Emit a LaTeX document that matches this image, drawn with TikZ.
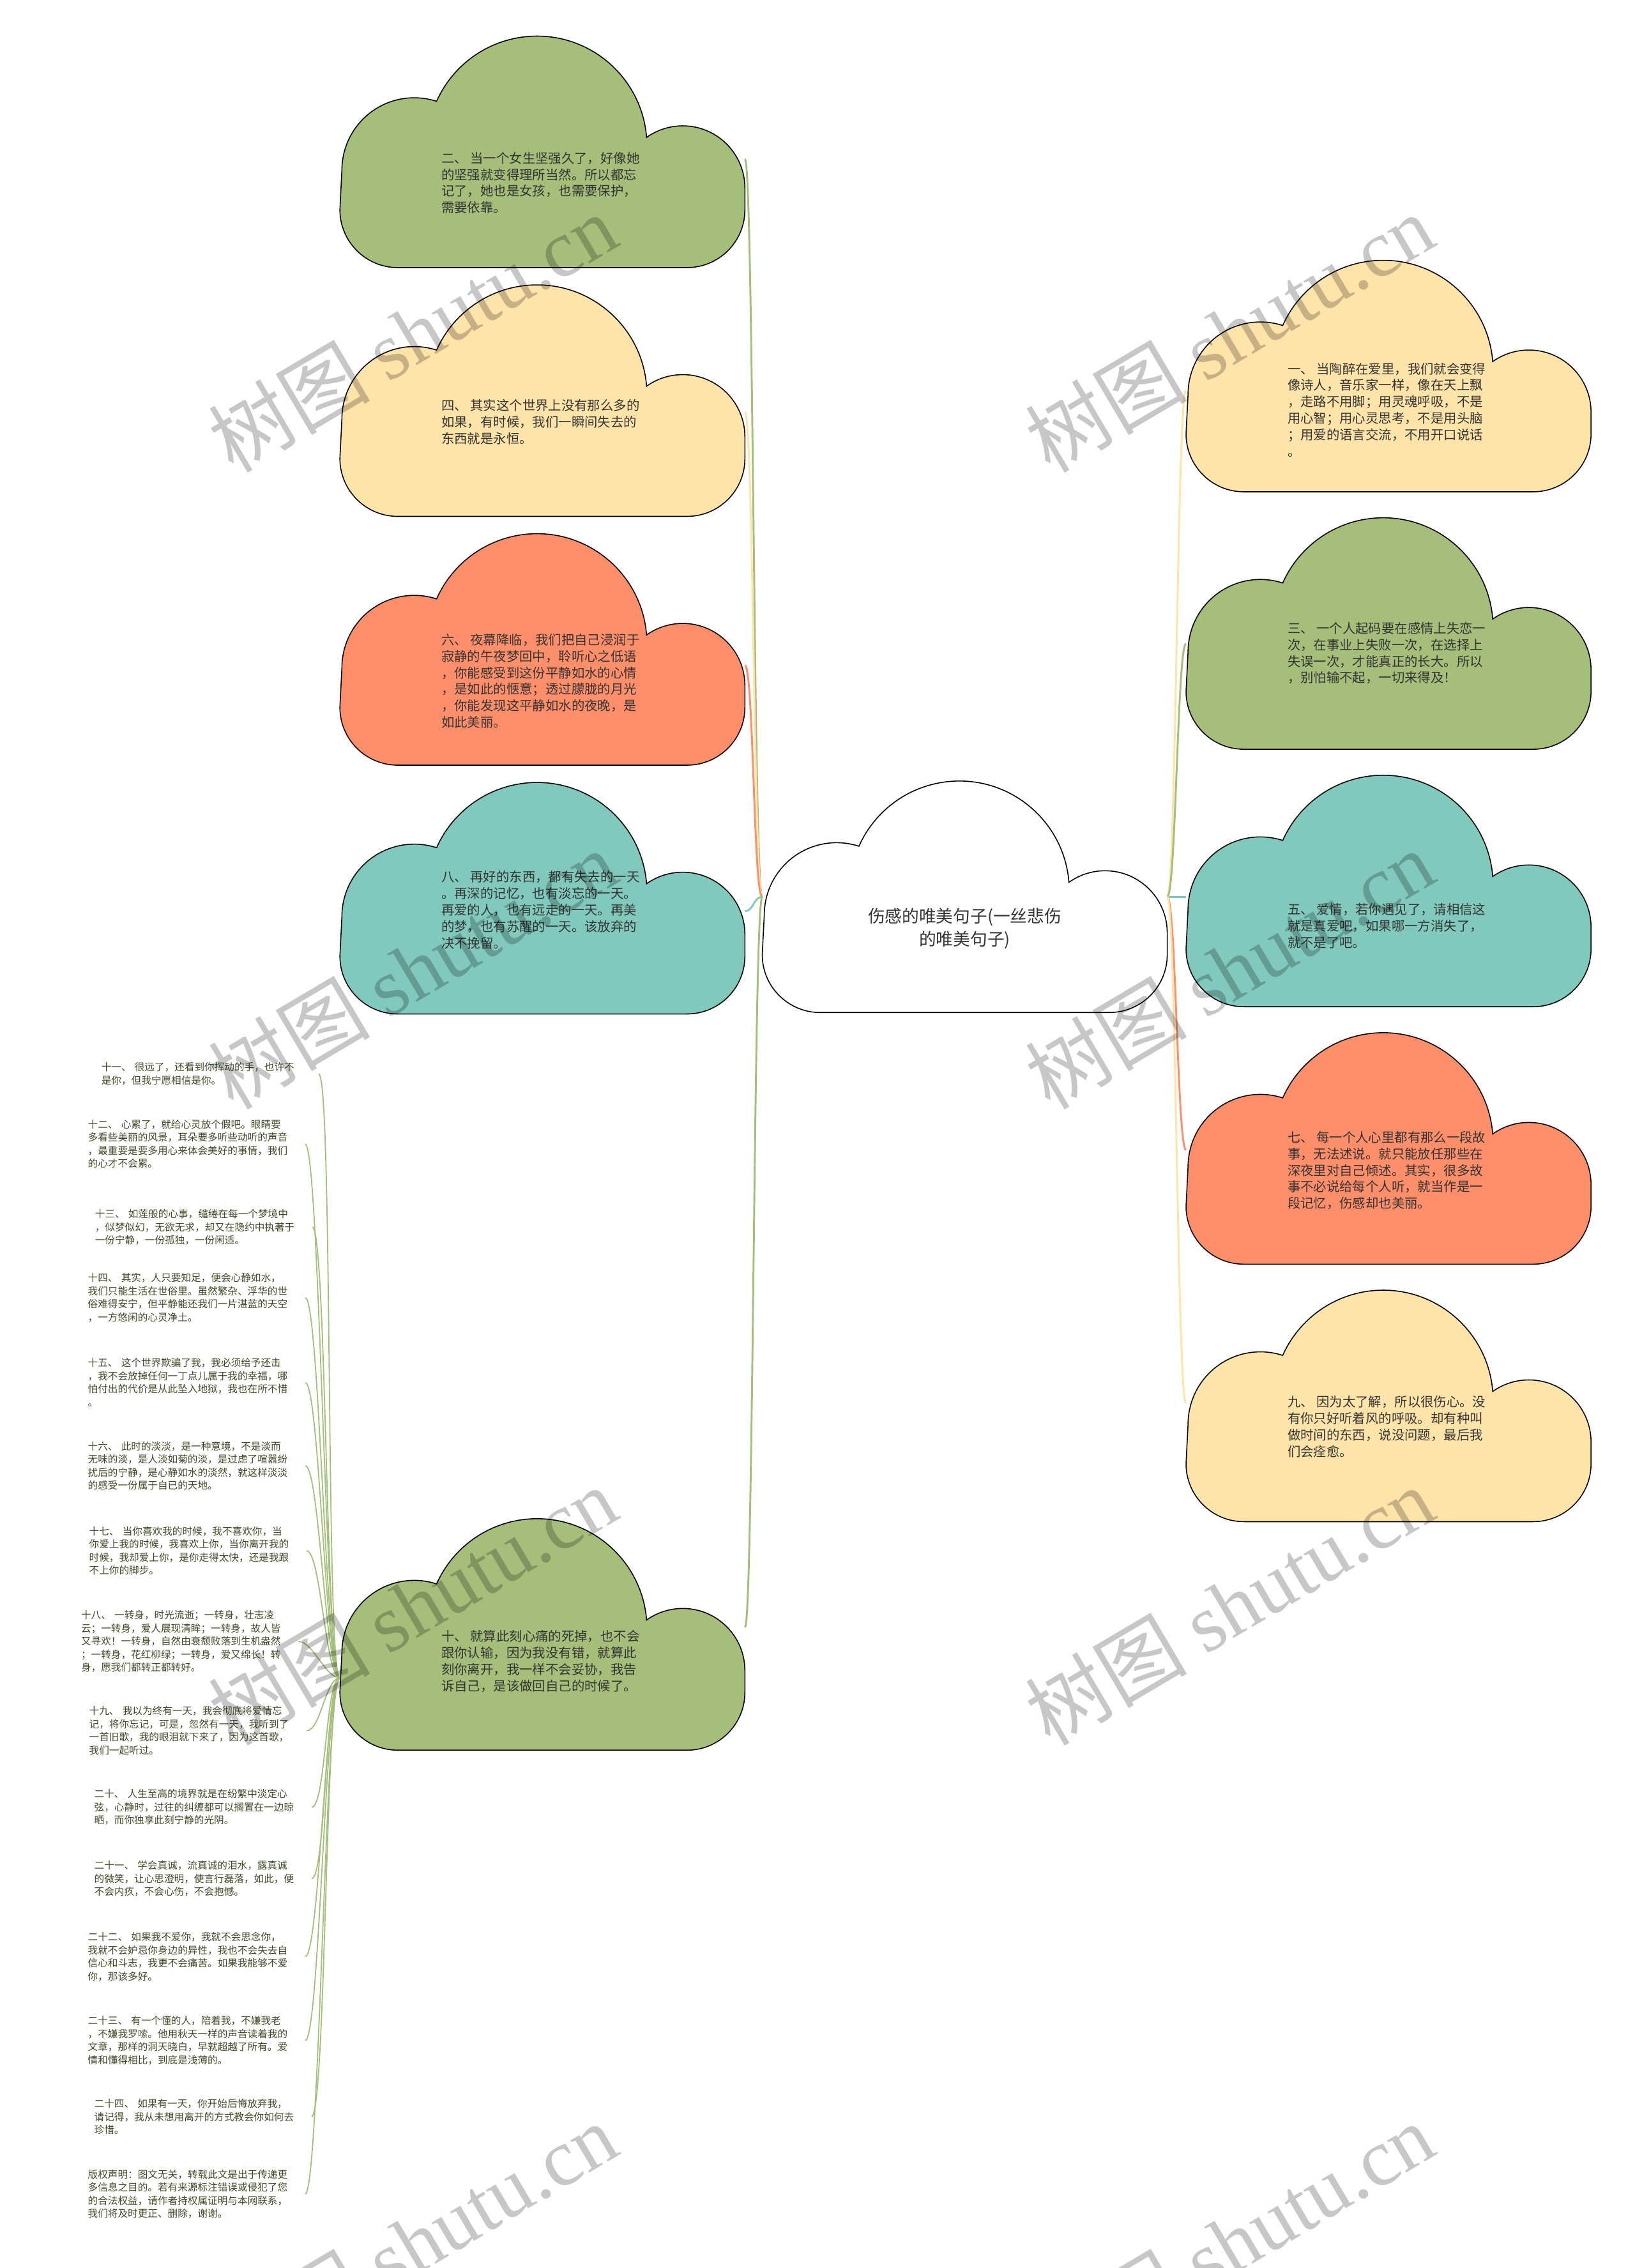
\documentclass[tikz,border=0pt]{standalone}
\usepackage{fontspec}
\setmainfont{Noto Sans CJK SC}
\newfontfamily\wmlatin{Liberation Serif}

\definecolor{leafgreen}{RGB}{165,190,122}
\definecolor{leafyellow}{RGB}{255,228,170}
\definecolor{leaforange}{RGB}{255,143,107}
\definecolor{leafteal}{RGB}{128,201,188}
\definecolor{inkgray}{RGB}{51,51,51}
\definecolor{listgreen}{RGB}{62,74,35}

\tikzset{
  pics/blob/.style={code={
    \filldraw[fill=#1, draw=black, line width=0.7pt]
      (40,160) -- (240,160) arc[start angle=270, end angle=360, radius=40pt]
      -- (280,105) arc[start angle=0, end angle=125.5, radius=43pt]
      arc[start angle=4.5, end angle=156, radius=76pt]
      arc[start angle=72, end angle=180, radius=50pt]
      -- (0,120) arc[start angle=180, end angle=270, radius=40pt] -- cycle;
  }},
  blobtext/.style={anchor=north west, inner sep=0pt, align=left, text=inkgray,
    font=\fontsize{9pt}{11.4pt}\selectfont},
  itemtext/.style={anchor=north west, inner sep=0pt, text width=150pt, align=left,
    text=listgreen, font=\fontsize{6.9pt}{9.05pt}\selectfont},
  branch/.style={draw=#1, line width=1.3pt},
  twig/.style={draw=leafgreen, line width=0.8pt},
  wmtext/.style={black, opacity=0.22, rotate=30.6, inner sep=0pt,
    font=\fontsize{56pt}{60pt}\selectfont}
}

\begin{document}
\begin{tikzpicture}[x=1pt, y=-1pt]
  \useasboundingbox (0,0) rectangle (1130,1568);
  % Define variables
  \pgfmathsetmacro{\xleft}{235}   % left column of clouds
  \pgfmathsetmacro{\xright}{820}  % right column of clouds
  \pgfmathsetmacro{\tleft}{305}   % text start, left column
  \pgfmathsetmacro{\tright}{890}  % text start, right column

  % Attach points
  \coordinate (rootw) at (527,620);
  \coordinate (roote) at (807,620);
  \coordinate (l1e) at (515,110);
  \coordinate (l2e) at (515,285);
  \coordinate (l3e) at (515,460);
  \coordinate (l4e) at (515,630);
  \coordinate (l10e) at (515,1125);
  \coordinate (l10w) at (235,1160);
  \coordinate (r1w) at (820,270);
  \coordinate (r2w) at (820,445);
  \coordinate (r3w) at (820,620);
  \coordinate (r4w) at (820,795);
  \coordinate (r5w) at (820,970);

  % Draw branches from the root
  \draw[branch=leafgreen]  (rootw) .. controls +(-6,0) and +(6,0) .. (l1e);
  \draw[branch=leafyellow] (rootw) .. controls +(-6,0) and +(6,0) .. (l2e);
  \draw[branch=leaforange] (rootw) .. controls +(-6,0) and +(6,0) .. (l3e);
  \draw[branch=leafteal]   (rootw) .. controls +(-6,0) and +(6,0) .. (l4e);
  \draw[branch=leafgreen]  (rootw) .. controls +(-6,0) and +(6,0) .. (l10e);
  \draw[branch=leafyellow] (roote) .. controls +(6,0) and +(-6,0) .. (r1w);
  \draw[branch=leafgreen]  (roote) .. controls +(6,0) and +(-6,0) .. (r2w);
  \draw[branch=leafteal]   (roote) .. controls +(6,0) and +(-6,0) .. (r3w);
  \draw[branch=leaforange] (roote) .. controls +(6,0) and +(-6,0) .. (r4w);
  \draw[branch=leafyellow] (roote) .. controls +(6,0) and +(-6,0) .. (r5w);

  % Draw clouds
  \pic at (527,540) {blob=white};
  \pic at (\xleft,25) {blob=leafgreen};
  \pic at (\xleft,197) {blob=leafyellow};
  \pic at (\xleft,369) {blob=leaforange};
  \pic at (\xleft,541) {blob=leafteal};
  \pic at (\xleft,1050) {blob=leafgreen};
  \pic at (\xright,180) {blob=leafyellow};
  \pic at (\xright,358) {blob=leafgreen};
  \pic at (\xright,536) {blob=leafteal};
  \pic at (\xright,714) {blob=leaforange};
  \pic at (\xright,892) {blob=leafyellow};

  % Root text
  \node[anchor=north, align=center, inner sep=0pt, text=inkgray,
    font=\fontsize{11.8pt}{16pt}\selectfont] (root) at (667,627.5)
    {伤感的唯美句子(一丝悲伤\\的唯美句子)};

  % Cloud texts, left
  \node[blobtext] (l1) at (\tleft,104.9) {二、~当一个女生坚强久了，好像她\\的坚强就变得理所当然。所以都忘\\记了，她也是女孩，也需要保护，\\需要依靠。};
  \node[blobtext] (l2) at (\tleft,275.9) {四、~其实这个世界上没有那么多的\\如果，有时候，我们一瞬间失去的\\东西就是永恒。};
  \node[blobtext] (l3) at (\tleft,437.9) {六、~夜幕降临，我们把自己浸润于\\寂静的午夜梦回中，聆听心之低语\\，你能感受到这份平静如水的心情\\，是如此的惬意；透过朦胧的月光\\，你能发现这平静如水的夜晚，是\\如此美丽。};
  \node[blobtext] (l4) at (\tleft,601.9) {八、~再好的东西，都有失去的一天\\。再深的记忆，也有淡忘的一天。\\再爱的人，也有远走的一天。再美\\的梦，也有苏醒的一天。该放弃的\\决不挽留。};
  \node[blobtext] (l10) at (\tleft,1126.9) {十、~就算此刻心痛的死掉，也不会\\跟你认输，因为我没有错，就算此\\刻你离开，我一样不会妥协，我告\\诉自己，是该做回自己的时候了。};

  % Cloud texts, right
  \node[blobtext] (r1) at (\tright,250.5) {一、~当陶醉在爱里，我们就会变得\\像诗人，音乐家一样，像在天上飘\\，走路不用脚；用灵魂呼吸，不是\\用心智；用心灵思考，不是用头脑\\；用爱的语言交流，不用开口说话\\。};
  \node[blobtext] (r2) at (\tright,429.9) {三、~一个人起码要在感情上失恋一\\次，在事业上失败一次，在选择上\\失误一次，才能真正的长大。所以\\，别怕输不起，一切来得及！};
  \node[blobtext] (r3) at (\tright,624.4) {五、~爱情，若你遇见了，请相信这\\就是真爱吧，如果哪一方消失了，\\就不是了吧。};
  \node[blobtext] (r4) at (\tright,781.9) {七、~每一个人心里都有那么一段故\\事，无法述说。就只能放任那些在\\深夜里对自己倾述。其实，很多故\\事不必说给每个人听，就当作是一\\段记忆，伤感却也美丽。};
  \node[blobtext] (r5) at (\tright,964.9) {九、~因为太了解，所以很伤心。没\\有你只好听着风的呼吸。却有种叫\\做时间的东西，说没问题，最后我\\们会痊愈。};

  % List under cloud ten
  \node[itemtext] (i11) at (69.9,734.3) {十一、~很远了，还看到你挥动的手，也许不\\是你，但我宁愿相信是你。};
  \node[itemtext] (i12) at (60.6,774) {十二、~心累了，就给心灵放个假吧。眼睛要\\多看些美丽的风景，耳朵要多听些动听的声音\\，最重要是要多用心来体会美好的事情，我们\\的心才不会累。};
  \node[itemtext] (i13) at (65.5,835.9) {十三、~如莲般的心事，缱绻在每一个梦境中\\，似梦似幻，无欲无求，却又在隐约中执著于\\一份宁静，一份孤独，一份闲适。};
  \node[itemtext] (i14) at (60.6,880) {十四、~其实，人只要知足，便会心静如水，\\我们只能生活在世俗里。虽然繁杂、浮华的世\\俗难得安宁，但平静能还我们一片湛蓝的天空\\，一方悠闲的心灵净土。};
  \node[itemtext] (i15) at (60.6,938.9) {十五、~这个世界欺骗了我，我必须给予还击\\，我不会放掉任何一丁点儿属于我的幸福，哪\\怕付出的代价是从此坠入地狱，我也在所不惜\\。};
  \node[itemtext] (i16) at (60.6,996.3) {十六、~此时的淡淡，是一种意境，不是淡而\\无味的淡，是人淡如菊的淡，是过虑了喧嚣纷\\扰后的宁静，是心静如水的淡然，就这样淡淡\\的感受一份属于自已的天地。};
  \node[itemtext] (i17) at (61.5,1055.2) {十七、~当你喜欢我的时候，我不喜欢你，当\\你爱上我的时候，我喜欢上你，当你离开我的\\时候，我却爱上你，是你走得太快，还是我跟\\不上你的脚步。};
  \node[itemtext] (i18) at (55.9,1113.2) {十八、~一转身，时光流逝；一转身，壮志凌\\云；一转身，爱人展现清眸；一转身，故人皆\\又寻欢！一转身，自然由衰颓败落到生机盎然\\；一转身，花红柳绿；一转身，爱又绵长！转\\身，愿我们都转正都转好。};
  \node[itemtext] (i19) at (61.5,1179.5) {十九、~我以为终有一天，我会彻底将爱情忘\\记，将你忘记，可是，忽然有一天，我听到了\\一首旧歌，我的眼泪就下来了，因为这首歌，\\我们一起听过。};
  \node[itemtext] (i20) at (65,1236.9) {二十、~人生至高的境界就是在纷繁中淡定心\\弦，心静时，过往的纠缠都可以搁置在一边晾\\晒，而你独享此刻宁静的光阴。};
  \node[itemtext] (i21) at (65,1286.3) {二十一、~学会真诚，流真诚的泪水，露真诚\\的微笑，让心思澄明，使言行磊落，如此，便\\不会内疚，不会心伤，不会抱憾。};
  \node[itemtext] (i22) at (60.6,1335.6) {二十二、~如果我不爱你，我就不会思念你，\\我就不会妒忌你身边的异性，我也不会失去自\\信心和斗志，我更不会痛苦。如果我能够不爱\\你，那该多好。};
  \node[itemtext] (i23) at (60.6,1393.7) {二十三、~有一个懂的人，陪着我，不嫌我老\\，不嫌我罗嗦。他用秋天一样的声音读着我的\\文章，那样的洞天晓白，早就超越了所有。爱\\情和懂得相比，到底是浅薄的。};
  \node[itemtext] (i24) at (65,1450.9) {二十四、~如果有一天，你开始后悔放弃我，\\请记得，我从未想用离开的方式教会你如何去\\珍惜。};
  \node[itemtext] (icopy) at (60.6,1499.7) {版权声明：图文无关，转载此文是出于传递更\\多信息之目的。若有来源标注错误或侵犯了您\\的合法权益，请作者持权属证明与本网联系，\\我们将及时更正、删除，谢谢。};

  % Draw twigs to the list
  \foreach \item in {i11,i12,i13,i14,i15,i16,i17,i18,i19,i20,i21,i22,i23,i24,icopy} {
    \draw[twig] (l10w) .. controls +(-10,0) and +(10,0) .. (\item.east); }

  % Watermarks
  \foreach \wx in {285,850} {
    \foreach \wy in {230,670,1110,1550} {
      \node[wmtext] (wm-\wx-\wy) at (\wx,\wy) {树图 {\wmlatin shutu.cn}}; } }
\end{tikzpicture}
\end{document}
